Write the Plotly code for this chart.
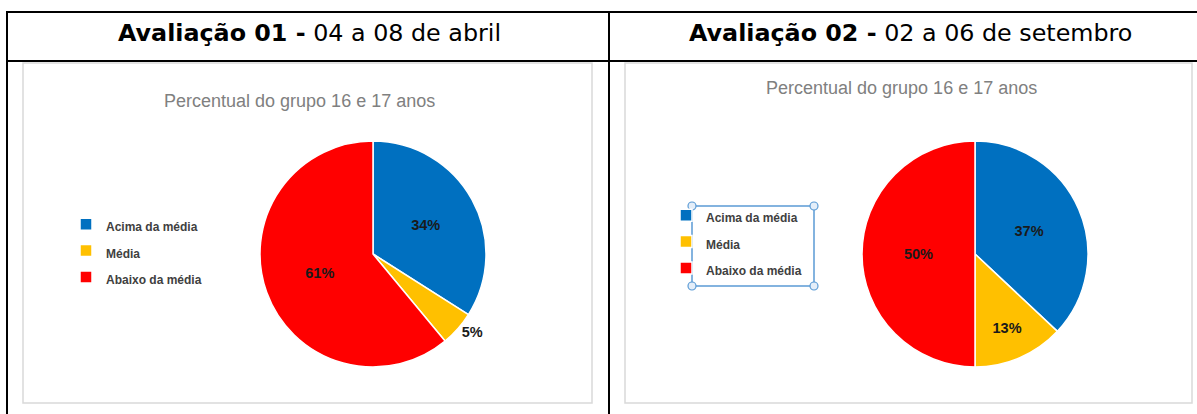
import plotly.graph_objects as go

# ---------------- data ----------------
categories = ["Acima da média", "Média", "Abaixo da média"]
aval01_values = [34, 5, 61]
aval02_values = [37, 13, 50]
header01_bold = "Avaliação 01 -"
header01_rest = "04 a 08 de abril"
header02_bold = "Avaliação 02 -"
header02_rest = "02 a 06 de setembro"
chart_title = "Percentual do grupo 16 e 17 anos"

# ---------------- style ----------------
W, H = 1197, 414
COLORS = ["#0070C0", "#FFC000", "#FF0000"]
SEL = "#5B9BD5"


def X(px):
    return px / W


def Y(py):
    return 1 - py / H


# distinct markup per chart so each pie keeps its own legend
labels01 = [f"<span style='font-size:12px'>{c}</span>" for c in categories]
labels02 = [f"<span style='font-size:12px;'>{c}</span>" for c in categories]

pie_text_font = dict(family="Liberation Sans, Arial, sans-serif", size=14.5, color="#1a1a1a", weight="bold")

fig = go.Figure()

fig.add_trace(go.Pie(
    labels=labels01, values=aval01_values, sort=False, direction="clockwise",
    rotation=0, marker=dict(colors=COLORS, line=dict(color="white", width=1.5)),
    textinfo="percent", textposition=["inside", "outside", "inside"],
    insidetextorientation="horizontal", textfont=pie_text_font,
    domain=dict(x=[X(260), X(486)], y=[Y(367), Y(141)]),
    legend="legend", hoverinfo="percent",
))
fig.add_trace(go.Pie(
    labels=labels02, values=aval02_values, sort=False, direction="clockwise",
    rotation=0, marker=dict(colors=COLORS, line=dict(color="white", width=1.5)),
    textinfo="percent", textposition="inside",
    insidetextorientation="horizontal", textfont=pie_text_font,
    domain=dict(x=[X(862), X(1088)], y=[Y(367), Y(141)]),
    legend="legend2", hoverinfo="percent",
))

legend_font = dict(family="Liberation Sans, Arial, sans-serif", size=18, color="#404040", weight="bold")

shapes = []
line_k = dict(color="black", width=2)
# table lines
shapes.append(dict(type="line", xref="paper", yref="paper", x0=X(7), x1=X(1197), y0=Y(12), y1=Y(12), line=line_k))
shapes.append(dict(type="line", xref="paper", yref="paper", x0=X(7), x1=X(1197), y0=Y(61), y1=Y(61), line=line_k))
shapes.append(dict(type="line", xref="paper", yref="paper", x0=X(7), x1=X(7), y0=Y(11), y1=Y(414), line=line_k))
shapes.append(dict(type="line", xref="paper", yref="paper", x0=X(609), x1=X(609), y0=Y(11), y1=Y(414), line=line_k))
# chart frames
for x0, x1 in [(23, 592), (625, 1192)]:
    shapes.append(dict(type="rect", xref="paper", yref="paper", x0=X(x0), x1=X(x1), y0=Y(403), y1=Y(63),
                       line=dict(color="#D9D9D9", width=1.5)))
# selection box around second legend
shapes.append(dict(type="rect", xref="paper", yref="paper", x0=X(692), x1=X(814), y0=Y(286), y1=Y(206),
                   line=dict(color=SEL, width=1.5)))
for cx in (692, 814):
    for cy in (206, 286):
        shapes.append(dict(type="circle", xref="paper", yref="paper",
                           x0=X(cx - 4), x1=X(cx + 4), y0=Y(cy + 4), y1=Y(cy - 4),
                           fillcolor="#E4EEF9", line=dict(color=SEL, width=1.2)))

hdr_font = dict(family="DejaVu Sans, Verdana, sans-serif", size=23.8, color="black")
title_font = dict(family="Liberation Sans, Arial, sans-serif", size=18, color="#808080")
annotations = [
    dict(text=f"<b>{header01_bold}</b> {header01_rest}", x=X(309), y=Y(33), xref="paper", yref="paper",
         showarrow=False, font=hdr_font, xanchor="center", yanchor="middle"),
    dict(text=f"<b>{header02_bold}</b> {header02_rest}", x=X(910), y=Y(33), xref="paper", yref="paper",
         showarrow=False, font=hdr_font, xanchor="center", yanchor="middle"),
    dict(text=chart_title, x=X(299), y=Y(101), xref="paper", yref="paper",
         showarrow=False, font=title_font, xanchor="center", yanchor="middle"),
    dict(text=chart_title, x=X(901), y=Y(88), xref="paper", yref="paper",
         showarrow=False, font=title_font, xanchor="center", yanchor="middle"),
]

fig.update_layout(
    width=W, height=H, margin=dict(l=0, r=0, t=0, b=0),
    paper_bgcolor="white", plot_bgcolor="white",
    shapes=shapes, annotations=annotations,
    legend=dict(x=X(66), y=Y(206), xanchor="left", yanchor="top", font=legend_font,
                bgcolor="rgba(0,0,0,0)", itemclick=False, itemdoubleclick=False, itemwidth=30),
    legend2=dict(x=X(666), y=Y(197), xanchor="left", yanchor="top", font=legend_font,
                 bgcolor="rgba(0,0,0,0)", itemclick=False, itemdoubleclick=False, itemwidth=30),
)

fig.write_html("out.html", config={"displayModeBar": False},
               post_script="document.body.style.margin='0';")
